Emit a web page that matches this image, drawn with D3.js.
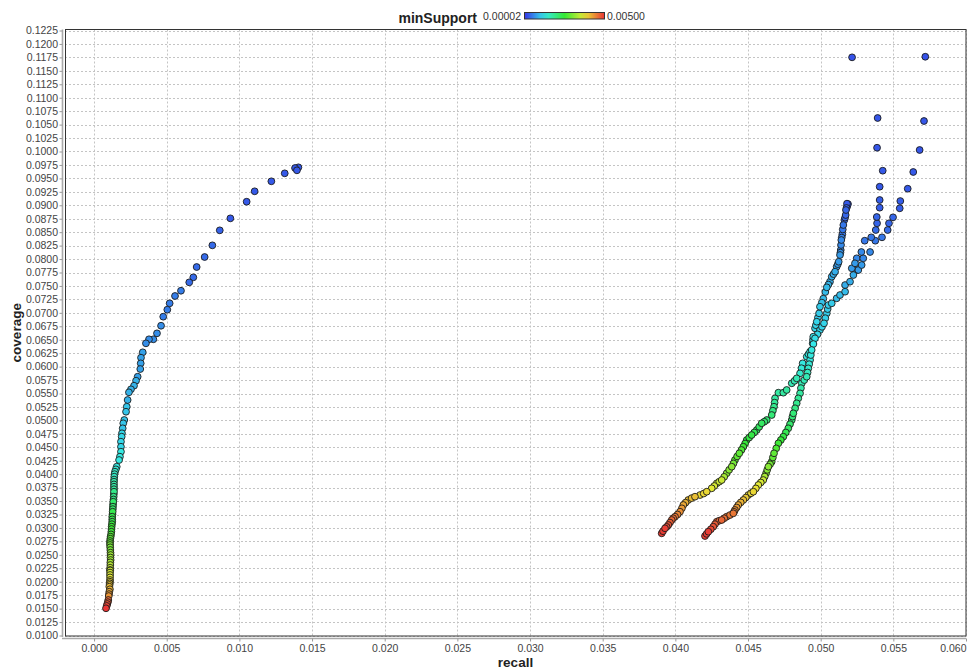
<!DOCTYPE html>
<html>
<head>
<meta charset="utf-8">
<script src="https://cdn.jsdelivr.net/npm/d3@7"></script>
<style>
  html, body { margin: 0; padding: 0; background: #fff; }
  svg { display: block; font-family: "Liberation Sans", Arial, sans-serif; }
</style>
</head>
<body>
<div id="chart"></div>
<script>
// [recall, coverage, minSupport]
const leftCurve = [
  [0.01406, 0.09706, 0.00027], [0.01383, 0.09693, 0.00027], [0.01396, 0.09650, 0.00027],
  [0.01312, 0.09594, 0.00027], [0.01220, 0.09446, 0.00027], [0.01105, 0.09260, 0.00027],
  [0.01050, 0.09066, 0.00027], [0.00938, 0.08757, 0.00027], [0.00865, 0.08534, 0.00033],
  [0.00814, 0.08255, 0.00039], [0.00761, 0.08038, 0.00039], [0.00706, 0.07852, 0.00039],
  [0.00683, 0.07660, 0.00039], [0.00655, 0.07567, 0.00039], [0.00598, 0.07411, 0.00052],
  [0.00557, 0.07313, 0.00052], [0.00520, 0.07177, 0.00052], [0.00504, 0.07058, 0.00052],
  [0.00476, 0.06928, 0.00052], [0.00461, 0.06760, 0.00064], [0.00433, 0.06619, 0.00064],
  [0.00408, 0.06508, 0.00064], [0.00378, 0.06508, 0.00064], [0.00357, 0.06433, 0.00064],
  [0.00335, 0.06266, 0.00077], [0.00323, 0.06166, 0.00077], [0.00321, 0.06061, 0.00077],
  [0.00318, 0.05955, 0.00077], [0.00300, 0.05812, 0.00077], [0.00289, 0.05738, 0.00089],
  [0.00275, 0.05645, 0.00089], [0.00254, 0.05578, 0.00089], [0.00240, 0.05522, 0.00089],
  [0.00231, 0.05379, 0.00089], [0.00225, 0.05254, 0.00102], [0.00220, 0.05161, 0.00102],
  [0.00208, 0.05007, 0.00102], [0.00201, 0.04946, 0.00102], [0.00197, 0.04853, 0.00102],
  [0.00192, 0.04760, 0.00114], [0.00190, 0.04697, 0.00114], [0.00185, 0.04604, 0.00114],
  [0.00185, 0.04510, 0.00114], [0.00185, 0.04418, 0.00131], [0.00178, 0.04325, 0.00131],
  [0.00172, 0.04263, 0.00131], [0.00156, 0.04139, 0.00131], [0.00150, 0.04090, 0.00140],
  [0.00144, 0.04046, 0.00151], [0.00141, 0.04000, 0.00151], [0.00139, 0.03953, 0.00151],
  [0.00138, 0.03900, 0.00160], [0.00137, 0.03860, 0.00172], [0.00137, 0.03810, 0.00172],
  [0.00137, 0.03767, 0.00172], [0.00137, 0.03720, 0.00178], [0.00137, 0.03674, 0.00193],
  [0.00136, 0.03630, 0.00185], [0.00135, 0.03581, 0.00193], [0.00134, 0.03530, 0.00193],
  [0.00132, 0.03488, 0.00214], [0.00131, 0.03440, 0.00205], [0.00130, 0.03395, 0.00214],
  [0.00129, 0.03350, 0.00214], [0.00128, 0.03302, 0.00234], [0.00127, 0.03255, 0.00225],
  [0.00125, 0.03209, 0.00234], [0.00125, 0.03160, 0.00234], [0.00125, 0.03116, 0.00234],
  [0.00123, 0.03070, 0.00245], [0.00121, 0.03023, 0.00255], [0.00120, 0.02980, 0.00255],
  [0.00119, 0.02930, 0.00255], [0.00117, 0.02880, 0.00265], [0.00114, 0.02837, 0.00276],
  [0.00112, 0.02800, 0.00276], [0.00110, 0.02757, 0.00276], [0.00110, 0.02720, 0.00286],
  [0.00110, 0.02683, 0.00297], [0.00111, 0.02640, 0.00297], [0.00112, 0.02590, 0.00297],
  [0.00113, 0.02540, 0.00310], [0.00114, 0.02497, 0.00324], [0.00113, 0.02450, 0.00324],
  [0.00114, 0.02404, 0.00324], [0.00112, 0.02360, 0.00330], [0.00112, 0.02311, 0.00340],
  [0.00111, 0.02260, 0.00348], [0.00110, 0.02218, 0.00355], [0.00111, 0.02210, 0.00355],
  [0.00110, 0.02170, 0.00360], [0.00110, 0.02125, 0.00365], [0.00110, 0.02080, 0.00372],
  [0.00110, 0.02032, 0.00380], [0.00109, 0.02000, 0.00388], [0.00108, 0.01970, 0.00395],
  [0.00107, 0.01940, 0.00400], [0.00105, 0.01907, 0.00407], [0.00109, 0.01860, 0.00412],
  [0.00105, 0.01814, 0.00420], [0.00103, 0.01770, 0.00430], [0.00101, 0.01734, 0.00434],
  [0.00098, 0.01660, 0.00463], [0.00095, 0.01620, 0.00470], [0.00091, 0.01586, 0.00480],
  [0.00087, 0.01550, 0.00490], [0.00082, 0.01506, 0.00500]
];

const rightCurveA = [
  [0.03906, 0.02900, 0.00494], [0.03915, 0.02940, 0.00494], [0.03929, 0.02993, 0.00494],
  [0.03940, 0.03020, 0.00485], [0.03952, 0.03055, 0.00479], [0.03963, 0.03100, 0.00473],
  [0.03975, 0.03148, 0.00467], [0.03985, 0.03180, 0.00460], [0.03998, 0.03209, 0.00454],
  [0.04015, 0.03250, 0.00446], [0.04032, 0.03302, 0.00438], [0.04045, 0.03365, 0.00430],
  [0.04055, 0.03427, 0.00421], [0.04070, 0.03470, 0.00413], [0.04089, 0.03520, 0.00405],
  [0.04112, 0.03555, 0.00405], [0.04135, 0.03581, 0.00405], [0.04170, 0.03612, 0.00388],
  [0.04195, 0.03640, 0.00388], [0.04216, 0.03674, 0.00388], [0.04250, 0.03737, 0.00371],
  [0.04268, 0.03780, 0.00363], [0.04285, 0.03830, 0.00355], [0.04302, 0.03860, 0.00355],
  [0.04319, 0.03891, 0.00355], [0.04336, 0.03950, 0.00330], [0.04353, 0.04016, 0.00309],
  [0.04370, 0.04080, 0.00309], [0.04388, 0.04139, 0.00309], [0.04400, 0.04200, 0.00295],
  [0.04410, 0.04263, 0.00280], [0.04425, 0.04330, 0.00280], [0.04440, 0.04388, 0.00280],
  [0.04455, 0.04450, 0.00268], [0.04468, 0.04510, 0.00257], [0.04480, 0.04570, 0.00248],
  [0.04491, 0.04635, 0.00239], [0.04508, 0.04680, 0.00239], [0.04525, 0.04728, 0.00239],
  [0.04543, 0.04775, 0.00230], [0.04560, 0.04821, 0.00220], [0.04577, 0.04880, 0.00220],
  [0.04594, 0.04946, 0.00220], [0.04612, 0.04975, 0.00212], [0.04629, 0.05007, 0.00205],
  [0.04663, 0.05100, 0.00205], [0.04671, 0.05180, 0.00197], [0.04679, 0.05254, 0.00189],
  [0.04683, 0.05330, 0.00183], [0.04686, 0.05410, 0.00176], [0.04709, 0.05515, 0.00176],
  [0.04743, 0.05515, 0.00176], [0.04766, 0.05565, 0.00176], [0.04801, 0.05690, 0.00162],
  [0.04820, 0.05735, 0.00162], [0.04835, 0.05782, 0.00162], [0.04858, 0.05875, 0.00147],
  [0.04868, 0.05970, 0.00140], [0.04876, 0.06061, 0.00133], [0.04904, 0.06184, 0.00133],
  [0.04916, 0.06230, 0.00133], [0.04927, 0.06277, 0.00133], [0.04945, 0.06433, 0.00120],
  [0.04947, 0.06500, 0.00120], [0.04949, 0.06556, 0.00120], [0.04961, 0.06712, 0.00112],
  [0.04967, 0.06770, 0.00112], [0.04973, 0.06835, 0.00112], [0.04981, 0.06910, 0.00106],
  [0.04989, 0.06991, 0.00106], [0.04995, 0.07114, 0.00106], [0.05008, 0.07190, 0.00100],
  [0.05018, 0.07263, 0.00095], [0.05032, 0.07387, 0.00095], [0.05042, 0.07474, 0.00095],
  [0.05053, 0.07525, 0.00090], [0.05064, 0.07579, 0.00085], [0.05076, 0.07672, 0.00085],
  [0.05088, 0.07720, 0.00085], [0.05099, 0.07765, 0.00085], [0.05110, 0.07858, 0.00073],
  [0.05118, 0.07905, 0.00073], [0.05124, 0.07950, 0.00073], [0.05133, 0.08075, 0.00073],
  [0.05136, 0.08120, 0.00066], [0.05138, 0.08168, 0.00060], [0.05140, 0.08261, 0.00060],
  [0.05142, 0.08354, 0.00060], [0.05145, 0.08400, 0.00055], [0.05149, 0.08460, 0.00048],
  [0.05152, 0.08550, 0.00048], [0.05156, 0.08633, 0.00048], [0.05163, 0.08726, 0.00035],
  [0.05168, 0.08770, 0.00035], [0.05172, 0.08819, 0.00035], [0.05174, 0.08912, 0.00035],
  [0.05178, 0.08950, 0.00030], [0.05183, 0.08986, 0.00027], [0.05188, 0.09023, 0.00027],
  [0.05181, 0.09030, 0.00027]
];

const rightCurveB = [
  [0.04204, 0.02850, 0.00494], [0.04215, 0.02890, 0.00494], [0.04227, 0.02930, 0.00494],
  [0.04244, 0.02975, 0.00487], [0.04261, 0.03023, 0.00479], [0.04273, 0.03070, 0.00473],
  [0.04285, 0.03116, 0.00467], [0.04302, 0.03135, 0.00467], [0.04319, 0.03148, 0.00467],
  [0.04336, 0.03180, 0.00460], [0.04353, 0.03209, 0.00454], [0.04376, 0.03240, 0.00454],
  [0.04399, 0.03272, 0.00454], [0.04404, 0.03300, 0.00446], [0.04410, 0.03334, 0.00438],
  [0.04422, 0.03380, 0.00430], [0.04433, 0.03427, 0.00421], [0.04450, 0.03475, 0.00413],
  [0.04468, 0.03520, 0.00405], [0.04485, 0.03565, 0.00397], [0.04502, 0.03612, 0.00388],
  [0.04520, 0.03645, 0.00388], [0.04537, 0.03674, 0.00388], [0.04554, 0.03735, 0.00380],
  [0.04571, 0.03798, 0.00371], [0.04588, 0.03845, 0.00363], [0.04605, 0.03891, 0.00355],
  [0.04615, 0.03955, 0.00330], [0.04624, 0.04016, 0.00309], [0.04632, 0.04080, 0.00309],
  [0.04640, 0.04139, 0.00309], [0.04652, 0.04185, 0.00295], [0.04663, 0.04232, 0.00280],
  [0.04671, 0.04310, 0.00280], [0.04679, 0.04388, 0.00280], [0.04694, 0.04480, 0.00268],
  [0.04709, 0.04574, 0.00257], [0.04726, 0.04635, 0.00248], [0.04743, 0.04697, 0.00239],
  [0.04760, 0.04775, 0.00230], [0.04777, 0.04853, 0.00220], [0.04789, 0.04930, 0.00212],
  [0.04801, 0.05007, 0.00205], [0.04806, 0.05070, 0.00205], [0.04812, 0.05132, 0.00205],
  [0.04824, 0.05225, 0.00197], [0.04835, 0.05318, 0.00189], [0.04846, 0.05410, 0.00183],
  [0.04858, 0.05503, 0.00176], [0.04864, 0.05600, 0.00170], [0.04870, 0.05690, 0.00162],
  [0.04887, 0.05750, 0.00162], [0.04904, 0.05812, 0.00162], [0.04910, 0.05890, 0.00155],
  [0.04915, 0.05968, 0.00147], [0.04921, 0.06045, 0.00140], [0.04927, 0.06123, 0.00133],
  [0.04932, 0.06215, 0.00133], [0.04938, 0.06309, 0.00133], [0.04950, 0.06420, 0.00126],
  [0.04961, 0.06526, 0.00120], [0.04978, 0.06600, 0.00116], [0.04995, 0.06680, 0.00112],
  [0.05009, 0.06740, 0.00112], [0.05023, 0.06805, 0.00112], [0.05032, 0.06900, 0.00108],
  [0.05042, 0.06991, 0.00106], [0.05048, 0.07070, 0.00106], [0.05053, 0.07145, 0.00106],
  [0.05076, 0.07177, 0.00106], [0.05110, 0.07270, 0.00095], [0.05133, 0.07331, 0.00095],
  [0.05168, 0.07393, 0.00095], [0.05168, 0.07517, 0.00085], [0.05202, 0.07579, 0.00085],
  [0.05225, 0.07703, 0.00085], [0.05248, 0.07796, 0.00073], [0.05259, 0.07796, 0.00073],
  [0.05214, 0.07828, 0.00073], [0.05282, 0.07889, 0.00073], [0.05236, 0.07921, 0.00073],
  [0.05248, 0.08014, 0.00060], [0.05293, 0.08014, 0.00060], [0.05280, 0.08131, 0.00060],
  [0.05340, 0.08131, 0.00060], [0.05303, 0.08341, 0.00048], [0.05376, 0.08341, 0.00048],
  [0.05348, 0.08404, 0.00048], [0.05422, 0.08404, 0.00048], [0.05379, 0.08540, 0.00040],
  [0.05461, 0.08540, 0.00040], [0.05388, 0.08665, 0.00035], [0.05470, 0.08665, 0.00035],
  [0.05386, 0.08782, 0.00035], [0.05498, 0.08776, 0.00035], [0.05406, 0.08955, 0.00030],
  [0.05544, 0.08944, 0.00030], [0.05406, 0.09098, 0.00030], [0.05548, 0.09079, 0.00030],
  [0.05406, 0.09345, 0.00027], [0.05599, 0.09308, 0.00027], [0.05427, 0.09643, 0.00027],
  [0.05637, 0.09619, 0.00027], [0.05388, 0.10070, 0.00025], [0.05681, 0.10028, 0.00025],
  [0.05392, 0.10623, 0.00025], [0.05711, 0.10567, 0.00025], [0.05216, 0.11751, 0.00022],
  [0.05720, 0.11762, 0.00022]
];

const xTicks = d3.range(0, 13).map(i => +(i * 0.005).toFixed(3));
const yTicks = d3.range(0, 46).map(i => +(0.01 + i * 0.0025).toFixed(4));
const supportRange = [0.00002, 0.005];

const width = 968, height = 670;
const plot = { left: 65, right: 966, top: 29.5, bottom: 636 };

const svg = d3.select("#chart").append("svg")
  .attr("width", width)
  .attr("height", height);

const x = d3.scaleLinear().domain([-0.002, 0.060]).range([plot.left, plot.right]);
const y = d3.scaleLinear().domain([0.0100, 0.1225]).range([635.5, 30.5]);

// rainbow paint scale: blue (low support) -> red (high support)
const hue = d3.scaleLinear().domain(supportRange).range([240, 0]);
const color = s => d3.hsl(hue(s), 0.8, 0.56).toString();

// plot background + grid
svg.append("rect")
  .attr("x", plot.left).attr("y", plot.top)
  .attr("width", plot.right - plot.left).attr("height", plot.bottom - plot.top)
  .attr("fill", "#fff");

const grid = svg.append("g")
  .attr("stroke", "#c4c4c4")
  .attr("stroke-width", 1)
  .attr("stroke-dasharray", "2,2");

grid.selectAll(".hgrid").data(yTicks).enter().append("line")
  .attr("x1", plot.left).attr("x2", plot.right)
  .attr("y1", d => Math.round(y(d)) + 0.5).attr("y2", d => Math.round(y(d)) + 0.5);

grid.selectAll(".vgrid").data(xTicks).enter().append("line")
  .attr("y1", plot.top).attr("y2", plot.bottom)
  .attr("x1", d => Math.round(x(d)) + 0.5).attr("x2", d => Math.round(x(d)) + 0.5);

// points, drawn from low to high support
const allPoints = [].concat(leftCurve, rightCurveA, rightCurveB)
  .slice()
  .sort((a, b) => a[2] - b[2]);

svg.append("g")
  .selectAll("circle")
  .data(allPoints)
  .enter()
  .append("circle")
  .attr("cx", d => x(d[0]))
  .attr("cy", d => y(d[1]))
  .attr("r", 3.4)
  .attr("fill", d => color(d[2]))
  .attr("stroke", "#1c1c1c")
  .attr("stroke-width", 0.9);

// plot outline
svg.append("rect")
  .attr("x", plot.left + 0.5).attr("y", plot.top)
  .attr("width", plot.right - plot.left - 0.5).attr("height", plot.bottom - plot.top)
  .attr("fill", "none")
  .attr("stroke", "#333")
  .attr("stroke-width", 1);

// Y axis
const yAxis = svg.append("g")
  .attr("transform", "translate(62.5,0)")
  .call(d3.axisLeft(y).tickValues(yTicks).tickFormat(d3.format(".4f")).tickSize(3).tickSizeOuter(0).tickPadding(1.5));

// X axis
const xAxis = svg.append("g")
  .attr("transform", "translate(0,638.5)")
  .call(d3.axisBottom(x).tickValues(xTicks).tickFormat(d3.format(".3f")).tickSize(3).tickSizeOuter(0).tickPadding(3));

svg.selectAll(".domain").attr("stroke", "#aaa").attr("stroke-width", 1.6);
yAxis.select(".domain").attr("d", `M0,${plot.top}V${plot.bottom + 1}`);
xAxis.select(".domain").attr("d", `M${plot.left - 3},0H${plot.right}`);
svg.selectAll(".tick line").attr("stroke", "#999");
svg.selectAll(".tick text")
  .attr("fill", "#444")
  .style("font-size", "10.5px")
  .style("font-family", "'Liberation Sans', Arial, sans-serif");

// last x label is pulled inside the chart
xAxis.selectAll(".tick text")
  .filter(d => Math.abs(d - 0.06) < 1e-9)
  .attr("text-anchor", "end")
  .attr("x", 0);

// axis titles
svg.append("text")
  .attr("x", (plot.left + plot.right) / 2)
  .attr("y", 667)
  .attr("text-anchor", "middle")
  .style("font-size", "13.5px")
  .style("font-weight", "bold")
  .style("fill", "#222")
  .text("recall");

svg.append("text")
  .attr("transform", `translate(21,${(plot.top + plot.bottom) / 2}) rotate(-90)`)
  .attr("text-anchor", "middle")
  .style("font-size", "13.5px")
  .style("font-weight", "bold")
  .style("fill", "#222")
  .text("coverage");

// colour legend
const defs = svg.append("defs");
const grad = defs.append("linearGradient").attr("id", "rainbow")
  .attr("x1", "0%").attr("x2", "100%").attr("y1", "0%").attr("y2", "0%");
d3.range(0, 11).forEach(i => {
  const s = supportRange[0] + (supportRange[1] - supportRange[0]) * i / 10;
  grad.append("stop").attr("offset", `${i * 10}%`).attr("stop-color", color(s));
});

svg.append("text")
  .attr("x", 477).attr("y", 22.5)
  .attr("text-anchor", "end")
  .style("font-size", "14px")
  .style("font-weight", "bold")
  .style("fill", "#222")
  .text("minSupport");

svg.append("text")
  .attr("x", 521).attr("y", 20)
  .attr("text-anchor", "end")
  .style("font-size", "10.5px")
  .style("fill", "#333")
  .text(d3.format(".5f")(supportRange[0]));

svg.append("rect")
  .attr("x", 524.5).attr("y", 12.5)
  .attr("width", 80).attr("height", 6.5)
  .attr("fill", "url(#rainbow)")
  .attr("stroke", "#333")
  .attr("stroke-width", 1);

svg.append("text")
  .attr("x", 607).attr("y", 20)
  .style("font-size", "10.5px")
  .style("fill", "#333")
  .text(d3.format(".5f")(supportRange[1]));
</script>
</body>
</html>
